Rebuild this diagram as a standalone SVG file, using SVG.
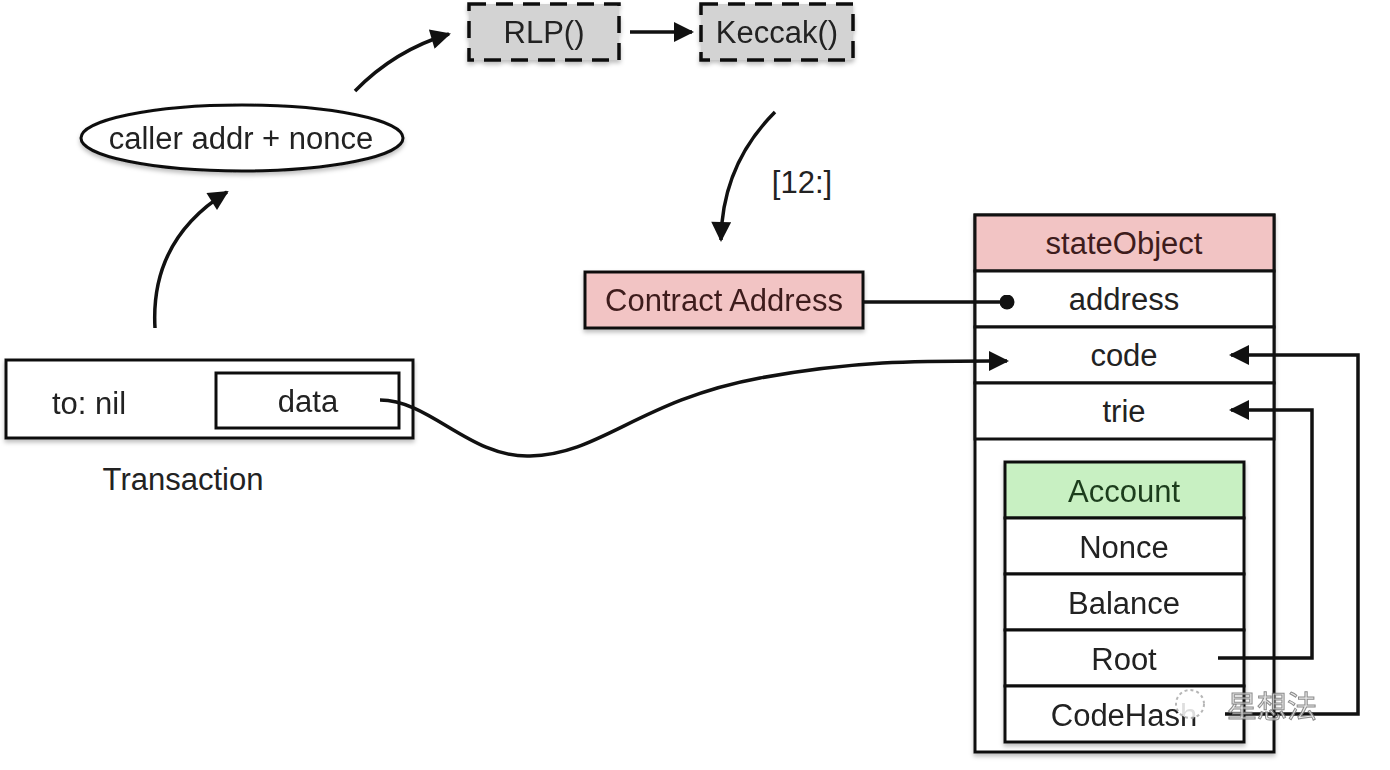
<svg xmlns="http://www.w3.org/2000/svg" width="1390" height="770" viewBox="0 0 1390 770">
<style>
text{font-family:"Liberation Sans",Arial,sans-serif;font-size:31px;fill:#222;text-anchor:middle;dominant-baseline:central}
.box{stroke:#111;stroke-width:3;fill:#fff}
.dash{fill:#d3d3d3;stroke:#111;stroke-width:3.5;stroke-dasharray:17 10}
.pink{fill:#f2c4c4;stroke:#111;stroke-width:3}
.green{fill:#c8f0c2;stroke:#111;stroke-width:3}
.conn{fill:none;stroke:#111;stroke-width:3.5}
.maroon{fill:#3e1c1c}
.dkgreen{fill:#1e3d1e}
</style>
<defs>
<marker id="ah" viewBox="0 0 10 10" refX="9" refY="5" markerWidth="26" markerHeight="20" markerUnits="userSpaceOnUse" orient="auto">
<path d="M0,0 L10,5 L0,10 z" fill="#111"/>
</marker>
<marker id="dot" viewBox="0 0 10 10" refX="5" refY="5" markerWidth="15" markerHeight="15" markerUnits="userSpaceOnUse">
<circle cx="5" cy="5" r="5" fill="#111"/>
</marker>
<filter id="sh" x="-10%" y="-10%" width="120%" height="130%">
<feDropShadow dx="0" dy="3" stdDeviation="2" flood-color="#000" flood-opacity="0.25"/>
</filter>
</defs>
<rect width="1390" height="770" fill="#fff"/>

<g id="rlp" filter="url(#sh)">
<rect class="dash" x="469" y="4" width="150" height="56"/>
<text x="544" y="32">RLP()</text>
</g>
<g id="keccak" filter="url(#sh)">
<rect class="dash" x="701" y="4" width="152" height="56"/>
<text x="777" y="32">Keccak()</text>
</g>
<g id="caller" filter="url(#sh)">
<ellipse cx="242" cy="138" rx="161" ry="33" class="box"/>
<text x="241" y="138">caller addr + nonce</text>
</g>
<g id="transaction" filter="url(#sh)">
<rect class="box" x="6" y="360" width="407" height="78"/>
<text x="89" y="403">to: nil</text>
<rect class="box" x="216" y="373" width="183" height="55"/>
<text x="308" y="401">data</text>
</g>
<text x="183" y="479">Transaction</text>
<g id="contract" filter="url(#sh)">
<rect class="pink" x="585" y="272" width="278" height="56"/>
<text class="maroon" x="724" y="300">Contract Address</text>
</g>
<g id="stateObject">
<rect class="box" x="975" y="215" width="299" height="537" filter="url(#sh)"/>
<rect class="pink" x="975" y="215" width="299" height="56"/>
<text class="maroon" x="1124" y="243">stateObject</text>
<rect class="box" x="975" y="271" width="299" height="56"/>
<text x="1124" y="299">address</text>
<rect class="box" x="975" y="327" width="299" height="56"/>
<text x="1124" y="355">code</text>
<rect class="box" x="975" y="383" width="299" height="56"/>
<text x="1124" y="411">trie</text>
</g>
<g id="account" filter="url(#sh)">
<rect class="green" x="1005" y="462" width="239" height="56"/>
<text class="dkgreen" x="1124" y="491">Account</text>
<rect class="box" x="1005" y="518" width="239" height="56"/>
<text x="1124" y="547">Nonce</text>
<rect class="box" x="1005" y="574" width="239" height="56"/>
<text x="1124" y="603">Balance</text>
<rect class="box" x="1005" y="630" width="239" height="56"/>
<text x="1124" y="659">Root</text>
<rect class="box" x="1005" y="686" width="239" height="56"/>
<text x="1124" y="715">CodeHash</text>
</g>

<g id="connectors">
<path class="conn" d="M630,32 L692,32" marker-end="url(#ah)"/>
<path class="conn" d="M355,91 Q395,50 449,34" marker-end="url(#ah)"/>
<path class="conn" d="M155,328 Q150,240 227,192" marker-end="url(#ah)"/>
<path class="conn" d="M775,112 Q722,165 721,240" marker-end="url(#ah)"/>
<path class="conn" d="M863,302 L1007,302" marker-end="url(#dot)"/>
<path class="conn" d="M380,400 C430,400 470,458 530,456 C600,455 640,400 760,378 C860,360 920,361 1007,361" marker-end="url(#ah)"/>
<path class="conn" d="M1218,658 L1312,658 L1312,410 L1231,410" marker-end="url(#ah)"/>
<path class="conn" d="M1225,714 L1358,714 L1358,355 L1231,355" marker-end="url(#ah)"/>
</g>
<text x="802" y="182">[12:]</text>

<g id="watermark" opacity="0.85">
<circle cx="1190" cy="704" r="14" fill="#fff" stroke="#aaa" stroke-width="2" stroke-dasharray="3 3"/>
<text x="1272" y="704" style="font-family:'Noto Sans CJK SC',sans-serif;font-size:30px;fill:#e8e8e8;stroke:#777;stroke-width:1">星想法</text>
</g>
</svg>
